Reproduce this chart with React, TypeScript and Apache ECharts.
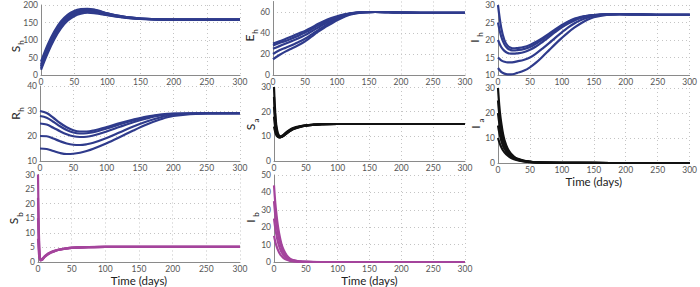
import React, { useEffect, useRef } from "react";
import * as echarts from "echarts";

// ---- time grids (days) ----
const tSh = [0, 10, 20, 30, 40, 50, 60, 70, 80, 90, 100, 120, 150, 200, 250, 300];
const tEh = [0, 10, 20, 30, 40, 50, 60, 70, 80, 90, 100, 110, 120, 140, 160, 180, 200, 250, 300];
const tIh = [0, 5, 10, 15, 20, 25, 30, 40, 50, 60, 70, 80, 90, 100, 110, 120, 130, 140, 150, 170, 190, 220, 260, 300];
const tRh = [0, 10, 20, 30, 40, 50, 60, 70, 80, 100, 120, 140, 160, 180, 200, 250, 300];
const tSa = [0, 1, 2, 3, 4, 6, 8, 10, 12, 15, 20, 25, 30, 40, 50, 60, 75, 100, 150, 200, 300];
const tIa = [0, 2, 4, 6, 8, 10, 15, 20, 25, 30, 40, 50, 60, 80, 100, 150, 200, 300];
const tSb = [0, 1, 2, 3, 4, 5, 6, 8, 10, 15, 20, 25, 30, 40, 50, 75, 100, 150, 200, 300];
const tIb = [0, 2, 4, 6, 8, 10, 12, 15, 20, 25, 30, 40, 50, 75, 100, 300];

// ---- series values ----
const Sh1 = [15, 62, 102, 133, 155, 168, 175, 178, 177, 174, 171, 165, 160, 158, 158, 158];
const Sh2 = [20, 68, 108, 139, 160, 172, 178, 180, 179, 176, 172, 166, 160, 158, 158, 158];
const Sh3 = [25, 74, 114, 144, 164, 176, 182, 184, 183, 179, 174, 167, 161, 158, 158, 158];
const Sh4 = [30, 80, 119, 149, 168, 180, 186, 187, 186, 181, 176, 168, 161, 158, 158, 158];
const Sh5 = [38, 86, 124, 153, 172, 183, 188, 189, 187, 182, 176, 168, 161, 158, 158, 158];

const Eh1 = [15, 19, 22.5, 25.5, 28.5, 32, 36.5, 41, 45, 48.5, 52, 55, 57.5, 59.5, 60, 59.8, 59.5, 59.2, 59.2];
const Eh2 = [20, 23.5, 26, 28.5, 31.5, 34.5, 38.5, 42.5, 46.5, 50, 53, 55.8, 58, 59.6, 60, 59.8, 59.5, 59.2, 59.2];
const Eh3 = [25, 27.5, 30, 32.5, 35, 38, 41.5, 45, 48.5, 51.5, 54.3, 56.6, 58.3, 59.7, 60, 59.8, 59.5, 59.2, 59.2];
const Eh4 = [28, 30.5, 32.5, 35, 37.5, 40.5, 43.5, 47, 50, 53, 55.3, 57.2, 58.6, 59.8, 60, 59.8, 59.5, 59.2, 59.2];
const Eh5 = [30, 32, 34.5, 37, 39.5, 42, 45, 48.5, 51.5, 54, 56, 57.6, 58.8, 59.8, 60, 59.8, 59.5, 59.2, 59.2];

const Ih1 = [30, 23.5, 20, 18.4, 17.8, 17.6, 17.7, 18, 18.6, 19.5, 20.6, 21.8, 23.1, 24.3, 25.3, 26.1, 26.6, 26.9, 27.1, 27.3, 27.4, 27.3, 27.2, 27.2];
const Ih2 = [25, 21, 18.8, 17.6, 17.1, 17, 17.1, 17.4, 18, 19, 20.2, 21.5, 22.8, 24, 25.1, 25.9, 26.5, 26.9, 27.1, 27.3, 27.4, 27.3, 27.2, 27.2];
const Ih3 = [20, 18, 16.9, 16.3, 16.1, 16.1, 16.2, 16.5, 17.2, 18.2, 19.5, 20.9, 22.3, 23.6, 24.7, 25.6, 26.3, 26.8, 27, 27.3, 27.4, 27.3, 27.2, 27.2];
const Ih4 = [15, 14.2, 13.8, 13.6, 13.6, 13.7, 13.9, 14.3, 15, 16.2, 17.6, 19.1, 20.7, 22.2, 23.6, 24.8, 25.7, 26.4, 26.9, 27.3, 27.4, 27.3, 27.2, 27.2];
const Ih5 = [12, 10.9, 10.4, 10.2, 10.2, 10.3, 10.6, 11.2, 12.2, 13.6, 15.3, 17.1, 18.9, 20.6, 22.2, 23.6, 24.8, 25.8, 26.5, 27.2, 27.4, 27.3, 27.2, 27.2];

const Rh1 = [30, 29.2, 27.3, 25.2, 23.5, 22.3, 21.8, 21.8, 22.2, 23.6, 25.2, 26.6, 27.8, 28.6, 29, 29.1, 29.1];
const Rh2 = [28, 27.3, 25.7, 23.9, 22.4, 21.4, 21, 21.1, 21.5, 23, 24.7, 26.2, 27.5, 28.4, 28.9, 29.1, 29.1];
const Rh3 = [25, 24.6, 23.3, 21.9, 20.7, 19.9, 19.6, 19.7, 20.2, 21.8, 23.7, 25.5, 27, 28.2, 28.8, 29.1, 29.1];
const Rh4 = [20, 19.9, 19, 17.9, 17, 16.5, 16.4, 16.7, 17.3, 19.2, 21.5, 23.8, 25.8, 27.4, 28.5, 29.1, 29.1];
const Rh5 = [15, 14.8, 14, 13.2, 12.8, 12.9, 13.3, 14, 14.9, 17.1, 19.6, 22.2, 24.6, 26.6, 28, 29, 29.1];

const Sa1 = [30, 24, 19.5, 16, 13.8, 11.3, 10.3, 10, 10.1, 10.6, 11.8, 12.7, 13.4, 14.1, 14.5, 14.7, 14.9, 15, 15, 15, 15];
const Sa2 = [26, 21, 17.5, 14.8, 12.8, 10.8, 10, 9.8, 9.9, 10.4, 11.6, 12.5, 13.2, 14, 14.4, 14.7, 14.9, 15, 15, 15, 15];
const Sa3 = [22, 18.5, 15.5, 13.4, 11.9, 10.4, 9.8, 9.7, 9.8, 10.3, 11.4, 12.3, 13.1, 13.9, 14.4, 14.7, 14.9, 15, 15, 15, 15];
const Sa4 = [18, 15.5, 13.5, 12, 11, 10, 9.6, 9.6, 9.8, 10.2, 11.2, 12.2, 13, 13.8, 14.3, 14.6, 14.9, 15, 15, 15, 15];
const Sa5 = [14, 12.8, 11.7, 10.9, 10.3, 9.8, 9.6, 9.7, 9.9, 10.3, 11.2, 12.1, 12.9, 13.7, 14.3, 14.6, 14.9, 15, 15, 15, 15];

const Ia1 = [30, 23, 18, 14.5, 11.5, 9.3, 5.8, 3.8, 2.6, 1.8, 1.0, 0.6, 0.35, 0.15, 0.08, 0.02, 0, 0];
const Ia2 = [25, 19.5, 15.5, 12.5, 10, 8.2, 5.2, 3.4, 2.3, 1.6, 0.9, 0.5, 0.3, 0.13, 0.07, 0.02, 0, 0];
const Ia3 = [20, 16, 12.8, 10.3, 8.4, 6.9, 4.5, 3, 2.1, 1.5, 0.8, 0.45, 0.28, 0.12, 0.06, 0.02, 0, 0];
const Ia4 = [15, 12.2, 10, 8.2, 6.8, 5.7, 3.8, 2.6, 1.8, 1.3, 0.7, 0.4, 0.25, 0.1, 0.05, 0.02, 0, 0];
const Ia5 = [10, 8.4, 7, 5.9, 5, 4.3, 3, 2.1, 1.5, 1.1, 0.6, 0.35, 0.2, 0.09, 0.04, 0.01, 0, 0];

const Sb1 = [30, 14, 5, 1.5, 0.8, 0.8, 1, 1.5, 2, 2.9, 3.5, 3.9, 4.2, 4.6, 4.9, 5.1, 5.2, 5.2, 5.2, 5.2];
const Sb2 = [22, 10.5, 3.8, 1.2, 0.7, 0.7, 0.9, 1.4, 1.9, 2.8, 3.4, 3.8, 4.2, 4.6, 4.9, 5.1, 5.2, 5.2, 5.2, 5.2];
const Sb3 = [15, 7, 2.5, 1, 0.6, 0.6, 0.8, 1.3, 1.8, 2.7, 3.3, 3.8, 4.1, 4.6, 4.8, 5.1, 5.2, 5.2, 5.2, 5.2];
const Sb4 = [8, 4, 1.6, 0.8, 0.5, 0.5, 0.7, 1.2, 1.7, 2.6, 3.3, 3.7, 4.1, 4.5, 4.8, 5.1, 5.2, 5.2, 5.2, 5.2];

const Ib1 = [44, 34, 27, 21, 16.5, 13, 10, 7, 3.8, 2, 1.1, 0.35, 0.1, 0, 0, 0];
const Ib2 = [35, 27, 21, 16.5, 13, 10.2, 8, 5.5, 3, 1.6, 0.9, 0.3, 0.08, 0, 0, 0];
const Ib3 = [25, 19.5, 15.2, 11.8, 9.2, 7.2, 5.6, 3.9, 2.1, 1.1, 0.6, 0.2, 0.06, 0, 0, 0];
const Ib4 = [15, 11.7, 9.1, 7.1, 5.5, 4.3, 3.4, 2.3, 1.25, 0.65, 0.35, 0.12, 0.04, 0, 0, 0];

const xTicks = [0, 50, 100, 150, 200, 250, 300];

const BLUE = "#2f3b8c";
const BLACK = "#111111";
const MAGENTA = "#a4449c";
const FONT = "Lato, 'Open Sans', sans-serif";

type Panel = {
  name: string;
  sub: string;
  t: number[];
  curves: number[][];
  color: string;
  grid: { left: number; top: number; width: number; height: number };
  ymin: number;
  ymax: number;
  yint: number;
  hideMax?: boolean;
  xname?: boolean;
  label: [number, number]; // centre of the main letter of the y-axis name
};

const panels: Panel[] = [
  { name: "S", sub: "h", t: tSh, curves: [Sh1, Sh2, Sh3, Sh4, Sh5], color: BLUE, grid: { left: 41, top: 5, width: 199, height: 70 }, ymin: 0, ymax: 200, yint: 50, label: [15, 49] },
  { name: "E", sub: "h", t: tEh, curves: [Eh1, Eh2, Eh3, Eh4, Eh5], color: BLUE, grid: { left: 273, top: 1.5, width: 192, height: 73.5 }, ymin: 0, ymax: 70, yint: 20, hideMax: true, label: [249, 38] },
  { name: "I", sub: "h", t: tIh, curves: [Ih1, Ih2, Ih3, Ih4, Ih5], color: BLUE, grid: { left: 498, top: 5, width: 195, height: 70 }, ymin: 10, ymax: 30, yint: 5, label: [474, 41] },
  { name: "R", sub: "h", t: tRh, curves: [Rh1, Rh2, Rh3, Rh4, Rh5], color: BLUE, grid: { left: 40, top: 86, width: 200, height: 75 }, ymin: 10, ymax: 40, yint: 10, label: [15, 116] },
  { name: "S", sub: "a", t: tSa, curves: [Sa1, Sa2, Sa3, Sa4, Sa5], color: BLACK, grid: { left: 274, top: 87, width: 191, height: 74 }, ymin: 0, ymax: 30, yint: 10, label: [250, 127] },
  { name: "I", sub: "a", t: tIa, curves: [Ia1, Ia2, Ia3, Ia4, Ia5], color: BLACK, grid: { left: 498, top: 88, width: 195, height: 75 }, ymin: 0, ymax: 30, yint: 10, xname: true, label: [475, 127] },
  { name: "S", sub: "b", t: tSb, curves: [Sb1, Sb2, Sb3, Sb4], color: MAGENTA, grid: { left: 38, top: 174.5, width: 202, height: 88.5 }, ymin: 0, ymax: 30, yint: 5, xname: true, label: [13.5, 221] },
  { name: "I", sub: "b", t: tIb, curves: [Ib1, Ib2, Ib3, Ib4], color: MAGENTA, grid: { left: 274, top: 175, width: 191, height: 88 }, ymin: 0, ymax: 50, yint: 10, xname: true, label: [250, 221] },
];

export default function App() {
  const ref = useRef<HTMLDivElement>(null);
  useEffect(() => {
    if (!ref.current) return;
    const chart = echarts.init(ref.current, undefined, { renderer: "svg" });
    const grids: any[] = [];
    const xAxes: any[] = [];
    const yAxes: any[] = [];
    const series: any[] = [];
    const graphics: any[] = [];
    panels.forEach((p, i) => {
      grids.push({ ...p.grid });
      xAxes.push({
        type: "value",
        gridIndex: i,
        min: xTicks[0],
        max: xTicks[xTicks.length - 1],
        interval: 50,
        name: p.xname ? "Time (days)" : "",
        nameLocation: "middle",
        nameGap: 12,
        nameTextStyle: { fontFamily: FONT, fontSize: 11.5, color: "#222" },
        axisLine: { show: true, lineStyle: { color: "#8a8a8a", width: 1 } },
        axisTick: { show: false },
        axisLabel: { fontFamily: FONT, fontSize: 8.5, color: "#555", margin: 2 },
        splitLine: { show: true, lineStyle: { color: "#c4c4c4", type: [1, 3], width: 1 } },
      });
      yAxes.push({
        type: "value",
        gridIndex: i,
        min: p.ymin,
        max: p.ymax,
        interval: p.yint,
        axisLine: { show: true, lineStyle: { color: "#8a8a8a", width: 1 } },
        axisTick: { show: false },
        axisLabel: { fontFamily: FONT, fontSize: 8.5, color: "#555", margin: 3, showMaxLabel: p.hideMax ? false : true },
        splitLine: { show: true, showMaxLine: !p.hideMax, lineStyle: { color: "#c4c4c4", type: [1, 3], width: 1 } },
      });
      graphics.push({
        type: "text",
        x: p.label[0],
        y: p.label[1],
        rotation: Math.PI / 2,
        style: { text: p.name, fontFamily: FONT, fontSize: 12, fill: "#222", align: "center", verticalAlign: "middle" },
      });
      graphics.push({
        type: "text",
        x: p.label[0] + 6,
        y: p.label[1] - 6.5,
        rotation: Math.PI / 2,
        style: { text: p.sub, fontFamily: FONT, fontSize: 8, fill: "#222", align: "center", verticalAlign: "middle" },
      });
      p.curves.forEach((c) => {
        series.push({
          type: "line",
          xAxisIndex: i,
          yAxisIndex: i,
          data: p.t.map((t, k) => [t, c[k]]),
          smooth: 0.35,
          showSymbol: false,
          symbol: "none",
          lineStyle: { color: p.color, width: 2.2 },
          clip: true,
        });
      });
    });
    chart.setOption({
      animation: false,
      backgroundColor: "#ffffff",
      grid: grids,
      xAxis: xAxes,
      yAxis: yAxes,
      series,
      graphic: graphics,
    });
    return () => chart.dispose();
  }, []);
  return (
    <div
      ref={ref}
      style={{ position: "fixed", left: 0, top: 0, width: 700, height: 287, background: "#fff" }}
    />
  );
}
